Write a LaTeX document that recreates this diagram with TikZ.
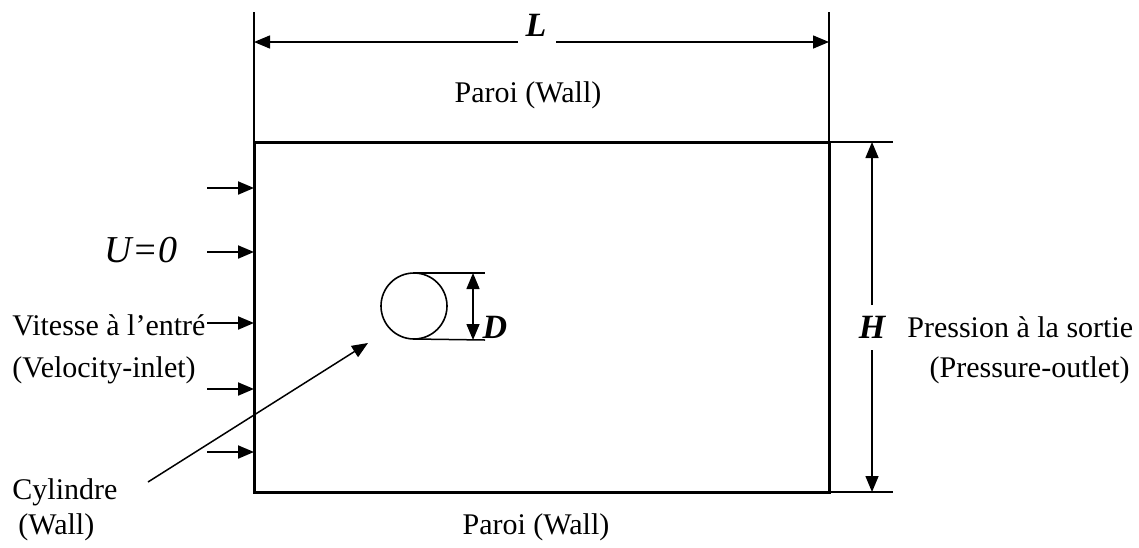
\documentclass[tikz,border=0pt]{standalone}
\usepackage{fontspec}
\setmainfont{Liberation Serif}
\usetikzlibrary{arrows.meta}
\begin{document}
\begin{tikzpicture}[x=0.5pt,y=-0.5pt,
  thinline/.style={line width=0.75pt},
  tip/.style={thinline,-{Triangle[length=8pt,width=6.5pt]}},
  dtip/.style={thinline,{Triangle[length=8pt,width=6.5pt]}-{Triangle[length=8pt,width=6.5pt]}},
  lbl/.style={font=\fontsize{15}{18}\selectfont, inner sep=0pt},
  dimlbl/.style={font=\fontsize{17}{20}\selectfont\bfseries\itshape, inner sep=0pt}]
\useasboundingbox (0,0) rectangle (1139,547);
% domain
\node[draw, line width=1.5pt, minimum width=287.5pt, minimum height=175pt, inner sep=0pt, outer sep=0pt] (dom) at (541.5,317) {};
% cylinder
\node[draw, circle, line width=0.8pt, minimum size=33pt, inner sep=0pt, outer sep=0pt] (cyl) at (414,306) {};
% L dimension
\coordinate (l1) at (254,12);
\coordinate (l2) at (829,12);
\draw[thinline] (l1) -- (dom.north west);
\draw[thinline] (l2) -- (dom.north east);
\node[dimlbl] (L) at (536,25) {L};
\coordinate (la) at (518,42);
\coordinate (lb) at (556,42);
\draw[tip] (la) -- (254,42);
\draw[tip] (lb) -- (829,42);
\node[lbl] (wtop) at (528,95) {Paroi (Wall)};
% H dimension
\coordinate (h1) at (893,142);
\coordinate (h2) at (893,492);
\draw[thinline] (dom.north east) -- (h1);
\draw[thinline] (dom.south east) -- (h2);
\node[dimlbl] (H) at (872,327) {H};
\draw[tip] (872,305) -- (872,142);
\draw[tip] (872,350) -- (872,492);
\node[lbl, anchor=west] (pout1) at (907,327) {Pression à la sortie};
\node[lbl, anchor=east] (pout2) at (1130,370) {(Pressure-outlet)};
% D dimension
\coordinate (d1) at (485,273);
\coordinate (d2) at (485,340);
\draw[thinline] (cyl.north) -- (d1);
\draw[thinline] (cyl.south) -- (d2);
\draw[dtip] (473,273) -- (473,340);
\node[dimlbl] (D) at (495,327) {D};
% inlet arrows
\foreach \yy in {188,252,323,389,452} {
  \draw[tip, line width=1pt] (207,\yy) -- (254,\yy);
}
\node[font=\fontsize{19}{22}\selectfont\itshape, inner sep=0pt] (U) at (141,250) {U=0};
\node[lbl, anchor=west] (vin1) at (12,325) {Vitesse à l’entré};
\node[lbl, anchor=west] (vin2) at (12,370) {(Velocity-inlet)};
% cylinder pointer
\node[lbl, anchor=west] (cy1) at (12,492) {Cylindre};
\node[lbl, anchor=west] (cy2) at (18,527) {(Wall)};
\coordinate (ptr) at (148,482);
\draw[tip] (ptr) -- (368,343);
% bottom wall
\node[lbl] (wbot) at (536,527) {Paroi (Wall)};
\end{tikzpicture}
\end{document}
